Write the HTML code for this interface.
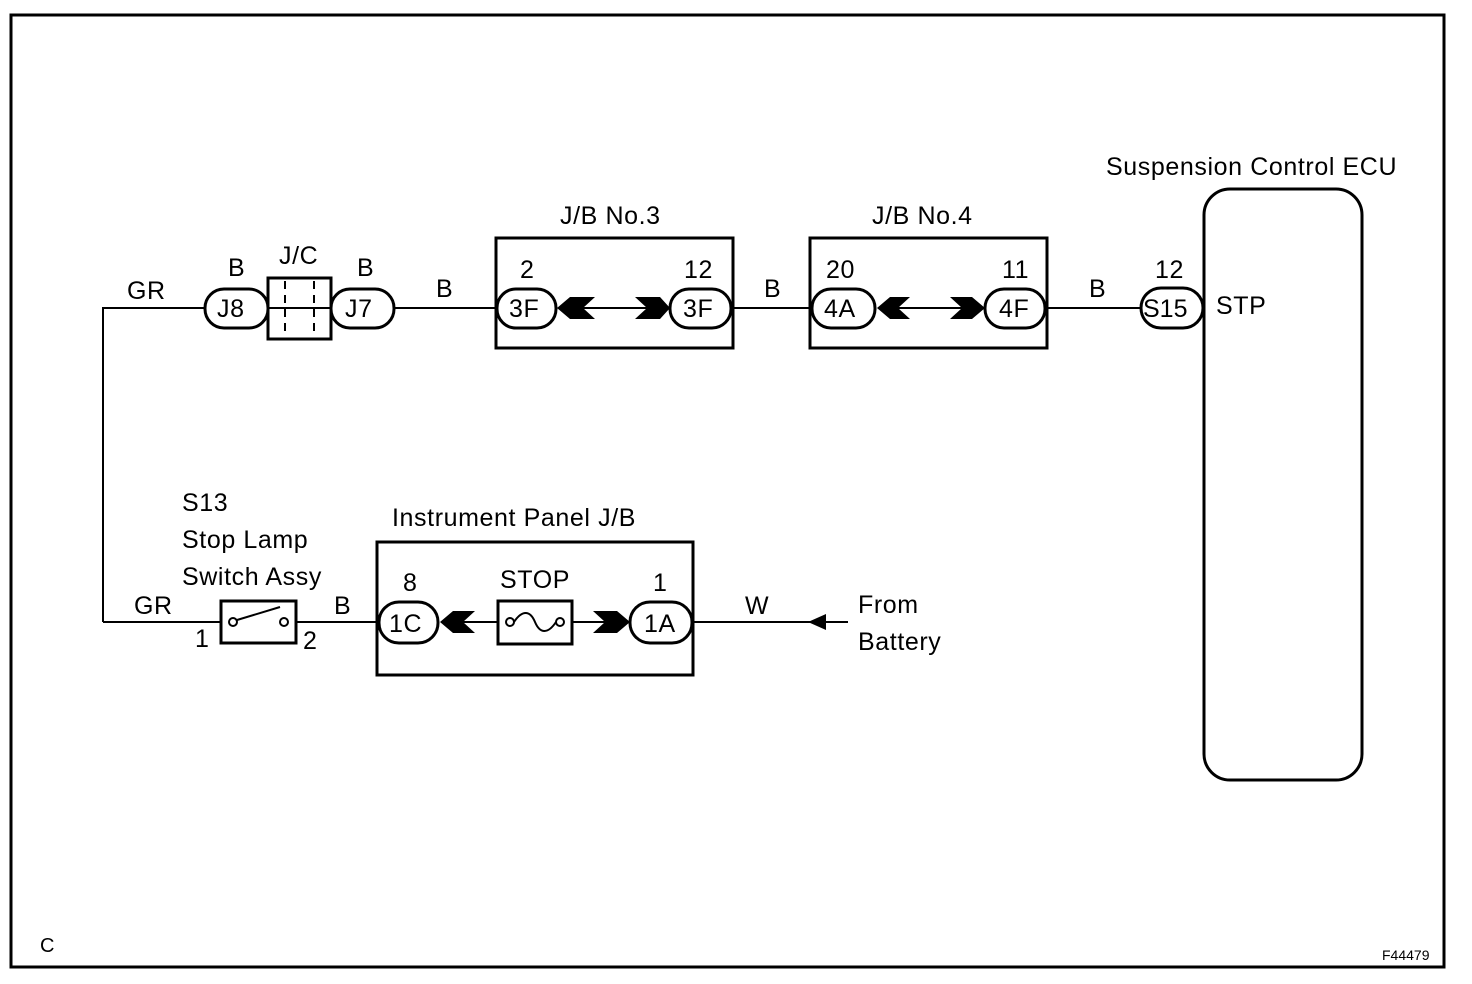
<!DOCTYPE html>
<html><head><meta charset="utf-8"><style>
html,body{margin:0;padding:0;background:#fff;}
svg{display:block;}
text{font-family:"Liberation Sans",Arial,sans-serif;fill:#000;}
</style></head><body>
<svg width="1472" height="984" viewBox="0 0 1472 984" xmlns="http://www.w3.org/2000/svg">
<rect x="11" y="15" width="1433" height="952" fill="none" stroke="#000" stroke-width="3"/>
<g stroke="#000" stroke-width="2" fill="none">
<polyline points="103,622 103,308 205,308"/>
<line x1="394" y1="308" x2="497" y2="308"/>
<line x1="580" y1="308" x2="650" y2="308"/>
<line x1="731" y1="308" x2="812" y2="308"/>
<line x1="895" y1="308" x2="965" y2="308"/>
<line x1="1045" y1="308" x2="1141" y2="308"/>
<line x1="103" y1="622" x2="220" y2="622"/>
<line x1="296" y1="622" x2="379" y2="622"/>
<line x1="460" y1="622" x2="610" y2="622"/>
<line x1="692" y1="622" x2="848" y2="622"/>
</g>
<g stroke="#000" stroke-width="3" fill="#fff">
<rect x="496" y="238" width="237" height="110" fill="none"/>
<rect x="810" y="238" width="237" height="110" fill="none"/>
<rect x="377" y="542" width="316" height="133" fill="none"/>
<rect x="1204" y="189" width="158" height="591" rx="26" fill="none"/>
<rect x="268" y="278" width="63" height="61"/>
<rect x="221" y="601" width="75" height="42"/>
<rect x="498" y="601" width="74" height="43"/>
<rect x="205" y="289" width="63" height="39" rx="19"/>
<rect x="331" y="289" width="63" height="39" rx="19"/>
<rect x="497" y="289" width="59" height="39" rx="19"/>
<rect x="670" y="289" width="61" height="39" rx="19"/>
<rect x="812" y="289" width="63" height="39" rx="19"/>
<rect x="985" y="289" width="60" height="39" rx="19"/>
<rect x="1141" y="288" width="62" height="40" rx="20"/>
<rect x="379" y="602" width="59" height="41" rx="20"/>
<rect x="630" y="602" width="62" height="41" rx="20"/>
</g>
<g stroke="#000" stroke-width="2">
<line x1="268" y1="308" x2="331" y2="308"/>
<line x1="285" y1="281" x2="285" y2="336" stroke-dasharray="8,6"/>
<line x1="314" y1="281" x2="314" y2="336" stroke-dasharray="8,6"/>
<circle cx="233" cy="622" r="4" fill="#fff"/>
<circle cx="284" cy="622" r="4" fill="#fff"/>
<line x1="237" y1="620" x2="280" y2="607"/>
<circle cx="510" cy="622" r="4" fill="#fff"/>
<circle cx="560" cy="622" r="4" fill="#fff"/>
<path d="M514,622 C522,610 530,610 535,622 C540,634 548,634 556,622" fill="none"/>
</g>
<g fill="#000">
<polygon points="557,308 570,297 595,297 583,308 595,319 570,319"/>
<polygon points="635,297 660,297 670,308 660,319 635,319 647,308"/>
<polygon points="877,308 890,297 910,297 898,308 910,319 890,319"/>
<polygon points="950,297 972,297 985,308 972,319 950,319 962,308"/>
<polygon points="440,622 453,611 475,611 463,622 475,633 453,633"/>
<polygon points="593,611 617,611 630,622 617,633 593,633 605,622"/>
<polygon points="808,622 826,614 826,630"/>
</g>
<g font-size="25" letter-spacing="0.6">
<text x="1106" y="175">Suspension Control ECU</text>
<text x="560" y="224">J/B No.3</text>
<text x="872" y="224">J/B No.4</text>
<text x="279" y="264">J/C</text>
<text x="228" y="276">B</text>
<text x="357" y="276">B</text>
<text x="127" y="299">GR</text>
<text x="436" y="297">B</text>
<text x="764" y="297">B</text>
<text x="1089" y="297">B</text>
<text x="520" y="278">2</text>
<text x="684" y="278">12</text>
<text x="826" y="278">20</text>
<text x="1002" y="278">11</text>
<text x="1155" y="278">12</text>
<text x="1216" y="314">STP</text>
<text x="217" y="317">J8</text>
<text x="345" y="317">J7</text>
<text x="509" y="317">3F</text>
<text x="683" y="317">3F</text>
<text x="824" y="317">4A</text>
<text x="999" y="317">4F</text>
<text x="1143" y="317" letter-spacing="0">S15</text>
<text x="182" y="511">S13</text>
<text x="182" y="548">Stop Lamp</text>
<text x="182" y="585">Switch Assy</text>
<text x="392" y="526">Instrument Panel J/B</text>
<text x="403" y="591">8</text>
<text x="500" y="588">STOP</text>
<text x="653" y="591">1</text>
<text x="134" y="614">GR</text>
<text x="334" y="614">B</text>
<text x="745" y="614">W</text>
<text x="858" y="613">From</text>
<text x="858" y="650">Battery</text>
<text x="195" y="647">1</text>
<text x="303" y="649">2</text>
<text x="389" y="632">1C</text>
<text x="644" y="632">1A</text>
<text x="40" y="952" font-size="20" letter-spacing="0">C</text>
<text x="1382" y="960" font-size="14" letter-spacing="0">F44479</text>
</g>
</svg>
</body></html>
